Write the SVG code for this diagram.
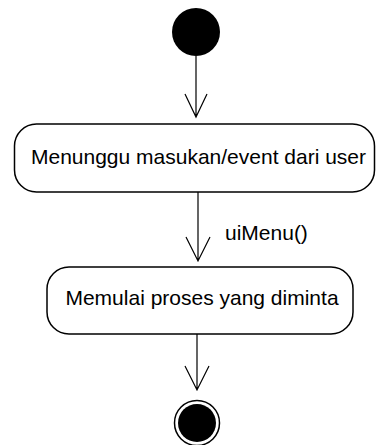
<svg xmlns="http://www.w3.org/2000/svg" width="376" height="445" viewBox="0 0 376 445">
<style>
.box{fill:#fff;stroke:#000;stroke-width:1.5}
.lbl{font-family:"Liberation Sans",Arial,sans-serif;font-size:21px;fill:#000}
.edge{stroke:#000;stroke-width:1.2;fill:none}
</style>
<rect width="376" height="445" fill="#fff"/>
<g id="connectors">
<path class="edge" d="M196 56 V117 M185 94 L196 117 L207 94"/>
<path class="edge" d="M198 192 V261 M186 237 L198 261 L210 237"/>
<path class="edge" d="M197 334 V390 M185 366 L197 390 L209 366"/>
<text class="lbl" x="225" y="240" font-size="22">uiMenu()</text>
</g>
<g id="start"><circle cx="196" cy="32" r="24" fill="#000"/></g>
<g id="n1">
<rect class="box" x="14.5" y="124" width="360" height="68" rx="22"/>
<text class="lbl" x="198.5" y="164" text-anchor="middle">Menunggu masukan/event dari user</text>
</g>
<g id="n2">
<rect class="box" x="47" y="267" width="306" height="67" rx="22"/>
<text class="lbl" x="202" y="305" text-anchor="middle">Memulai proses yang diminta</text>
</g>
<g id="end">
<circle cx="197" cy="423" r="22.5" fill="#fff" stroke="#000" stroke-width="1.5"/>
<circle cx="197" cy="423" r="19" fill="#000"/>
</g>
</svg>
